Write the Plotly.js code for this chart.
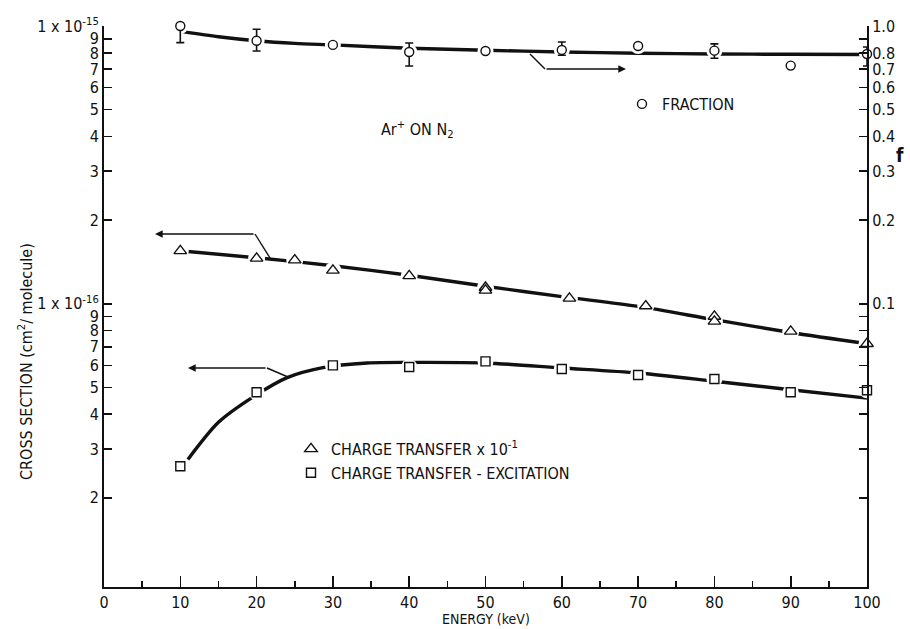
<!DOCTYPE html>
<html><head><meta charset="utf-8">
<script src="https://cdn.plot.ly/plotly-3.0.1.min.js"></script>
<style>html,body{margin:0;padding:0;background:#fff}#chart{width:910px;height:629px}</style>
</head><body><div id="chart"></div>
<script>
// ---- data ----
const fractionEnergy   = [10, 20, 30, 40, 50, 60, 70, 80, 90, 100];
const fractionValue    = [1.0, 0.885, 0.855, 0.806, 0.813, 0.82, 0.847, 0.815, 0.72, 0.793];
const fractionErrPlus  = [0, 0.088, 0, 0.063, 0, 0.056, 0, 0.047, 0, 0.047];
const fractionErrMinus = [0.129, 0.072, 0, 0.088, 0, 0.035, 0, 0.05, 0, 0.075];
const fractionFitEnergy = [10.3, 15, 20, 25, 30, 40, 50, 60, 70, 80, 90, 100];
const fractionFitValue  = [0.954, 0.915, 0.885, 0.866, 0.855, 0.832, 0.818, 0.806, 0.798, 0.793, 0.791, 0.79];

const ctEnergy = [10, 20, 25, 30, 40, 50, 50, 61, 71, 80, 80, 90, 100];
const ctValue  = [1.55e-16, 1.456e-16, 1.436e-16, 1.318e-16, 1.26e-16, 1.144e-16, 1.117e-16, 1.045e-16, 0.981e-16, 0.90e-16, 0.864e-16, 0.795e-16, 0.718e-16];
const ctFitEnergy = [11, 20, 30, 40, 50, 60, 70, 80, 90, 100];
const ctFitValue  = [1.542e-16, 1.464e-16, 1.370e-16, 1.266e-16, 1.156e-16, 1.060e-16, 0.978e-16, 0.876e-16, 0.788e-16, 0.718e-16];

const cteEnergy = [10, 20, 30, 40, 50, 60, 70, 80, 90, 100];
const cteValue  = [0.26e-16, 0.48e-16, 0.60e-16, 0.592e-16, 0.62e-16, 0.582e-16, 0.554e-16, 0.536e-16, 0.48e-16, 0.488e-16];
const cteFitEnergy = [11, 15, 19.4, 24, 28.7, 34.5, 40, 50, 60, 70, 80, 90, 100];
const cteFitValue  = [0.275e-16, 0.374e-16, 0.459e-16, 0.542e-16, 0.589e-16, 0.612e-16, 0.615e-16, 0.612e-16, 0.587e-16, 0.563e-16, 0.526e-16, 0.490e-16, 0.457e-16];

const xTickVals = [0, 10, 20, 30, 40, 50, 60, 70, 80, 90, 100];
const xTickText = ['0', '10', '20', '30', '40', '50', '60', '70', '80', '90', '100'];
const leftTickVals = [1e-15, 9e-16, 8e-16, 7e-16, 6e-16, 5e-16, 4e-16, 3e-16, 2e-16,
                      1e-16, 9e-17, 8e-17, 7e-17, 6e-17, 5e-17, 4e-17, 3e-17, 2e-17];
const leftTickText = ['1 x 10<sup>-15</sup>', '9', '8', '7', '6', '5', '4', '3', '2',
                      '1 x 10<sup>-16</sup>', '9', '8', '7', '6', '5', '4', '3', '2'];
const rightTickVals = [1.0, 0.9, 0.8, 0.7, 0.6, 0.5, 0.4, 0.3, 0.2, 0.1,
                       0.09, 0.08, 0.07, 0.06, 0.05, 0.04, 0.03, 0.02];
const rightTickText = ['1.0', '', '0.8', '0.7', '0.6', '0.5', '0.4', '0.3', '0.2', '0.1',
                       '', '', '', '', '', '', '', ''];

const FONT = "'DejaVu Sans Condensed', 'Liberation Sans Narrow', 'DejaVu Sans', sans-serif";
const INK = '#111';

function fit(x, y, yaxis) {
  return {x: x, y: y, yaxis: yaxis, type: 'scatter', mode: 'lines', showlegend: false,
          hoverinfo: 'skip', line: {color: INK, width: 3.4, shape: 'spline', smoothing: 0.8}};
}
function halo(x, y, yaxis, size) {
  return {x: x, y: y, yaxis: yaxis, type: 'scatter', mode: 'markers', showlegend: false,
          hoverinfo: 'skip', cliponaxis: false,
          marker: {symbol: 'circle', size: size, color: 'white', line: {width: 0}}};
}

const data = [
  fit(fractionFitEnergy, fractionFitValue, 'y2'),
  fit(ctFitEnergy, ctFitValue, 'y'),
  fit(cteFitEnergy, cteFitValue, 'y'),
  halo(fractionEnergy, fractionValue, 'y2', 16),
  halo(ctEnergy, ctValue, 'y', 17),
  halo(cteEnergy, cteValue, 'y', 16),
  {x: fractionEnergy, y: fractionValue, yaxis: 'y2', type: 'scatter', mode: 'markers',
   name: 'FRACTION', legend: 'legend', cliponaxis: false,
   error_y: {type: 'data', symmetric: false, array: fractionErrPlus, arrayminus: fractionErrMinus,
             color: INK, thickness: 1.6, width: 4},
   marker: {symbol: 'circle', size: 9, color: 'white', line: {color: INK, width: 1.4}}},
  {x: ctEnergy, y: ctValue, yaxis: 'y', type: 'scatter', mode: 'markers',
   name: 'CHARGE TRANSFER x 10<sup>-1</sup>', legend: 'legend2', cliponaxis: false,
   marker: {symbol: 'triangle-up', size: 11, color: 'white', line: {color: INK, width: 1.4}}},
  {x: cteEnergy, y: cteValue, yaxis: 'y', type: 'scatter', mode: 'markers',
   name: 'CHARGE TRANSFER - EXCITATION', legend: 'legend2', cliponaxis: false,
   marker: {symbol: 'square', size: 9, color: 'white', line: {color: INK, width: 1.4}}}
];

const px = v => (v - 104) / 763;
const py = v => (587 - v) / 561;

const lineStyle = {color: INK, width: 1.4};
const shapes = [
  {type: 'line', xref: 'paper', yref: 'paper', x0: px(530), y0: py(54), x1: px(545), y1: py(69), line: lineStyle},
  {type: 'line', xref: 'paper', yref: 'paper', x0: px(270), y0: py(258), x1: px(255), y1: py(234), line: lineStyle},
  {type: 'line', xref: 'paper', yref: 'paper', x0: px(288), y0: py(377), x1: px(267), y1: py(368), line: lineStyle}
];

function arrow(tipX, tipY, tailX) {
  return {xref: 'paper', yref: 'paper', x: px(tipX), y: py(tipY), ax: tailX - tipX, ay: 0,
          xanchor: 'center', yanchor: 'middle',
          text: '', showarrow: true, arrowhead: 2, arrowsize: 1.1, arrowwidth: 1.4,
          arrowcolor: INK, standoff: 0, startstandoff: 0};
}
function label(x, y, text, size, extra) {
  return Object.assign({xref: 'paper', yref: 'paper', x: x, y: y, text: text, showarrow: false,
    xanchor: 'center', yanchor: 'middle', font: {family: FONT, size: size, color: INK}}, extra || {});
}

const annotations = [
  arrow(626, 69, 545),
  arrow(155, 234, 255),
  arrow(188, 368, 267),
  label(px(417), py(129), 'Ar<sup>+</sup> ON N<sub>2</sub>', 16),
  label(px(25), py(362), 'CROSS SECTION (cm<sup>2</sup>/ molecule)', 16, {textangle: -90}),
  label(0.5, py(619), 'ENERGY (keV)', 14),
  label(px(900), py(155), '<b>f</b>', 19)
];

const axisCommon = {showgrid: false, zeroline: false, linecolor: INK, linewidth: 2,
                    tickcolor: INK, tickwidth: 1.6, ticks: 'inside',
                    tickfont: {family: FONT, size: 16, color: INK}};

const layout = {
  width: 910, height: 629,
  margin: {l: 104, r: 43, t: 26, b: 42, pad: 0},
  paper_bgcolor: 'white', plot_bgcolor: 'white',
  font: {family: FONT, color: INK, size: 14},
  xaxis: Object.assign({}, axisCommon, {range: [0, 100], tickmode: 'array', tickvals: xTickVals,
          ticktext: xTickText, ticklen: 11, showline: true,
          minor: {dtick: 5, tick0: 0, ticklen: 6, ticks: 'inside', tickcolor: INK, tickwidth: 1.6}}),
  xaxis2: Object.assign({}, axisCommon, {overlaying: 'x', side: 'top', range: [0, 100],
          tickmode: 'array', tickvals: xTickVals, ticklen: 8, showticklabels: false, showline: true,
          anchor: 'y',
          minor: {dtick: 5, tick0: 0, ticklen: 4, ticks: 'inside', tickcolor: INK, tickwidth: 1.6}}),
  yaxis: Object.assign({}, axisCommon, {type: 'log', range: [-17.02, -15], tickmode: 'array',
          tickvals: leftTickVals, ticktext: leftTickText, ticklen: 8, showline: true}),
  yaxis2: Object.assign({}, axisCommon, {type: 'log', overlaying: 'y', side: 'right', range: [-2.02, 0],
          tickmode: 'array', tickvals: rightTickVals, ticktext: rightTickText, ticklen: 8,
          showline: true, anchor: 'x'}),
  yaxis3: Object.assign({}, axisCommon, {type: 'log', overlaying: 'y', side: 'left', range: [-17.02, -15],
          tickmode: 'array', tickvals: [1e-16], ticklen: 17, showticklabels: false, showline: false, anchor: 'x'}),
  yaxis4: Object.assign({}, axisCommon, {type: 'log', overlaying: 'y', side: 'right', range: [-2.02, 0],
          tickmode: 'array', tickvals: [0.1], ticklen: 14, showticklabels: false, showline: false, anchor: 'x'}),
  showlegend: true,
  legend: {x: px(622), y: py(104), xanchor: 'left', yanchor: 'middle', bgcolor: 'rgba(0,0,0,0)',
           borderwidth: 0, itemwidth: 30, font: {family: FONT, size: 16, color: INK}},
  legend2: {x: px(291), y: py(461), xanchor: 'left', yanchor: 'middle', bgcolor: 'rgba(0,0,0,0)',
            borderwidth: 0, itemwidth: 30, font: {family: FONT, size: 16, color: INK}},
  shapes: shapes,
  annotations: annotations
};

Plotly.newPlot('chart', data, layout, {staticPlot: true, displayModeBar: false});
</script>
</body></html>
